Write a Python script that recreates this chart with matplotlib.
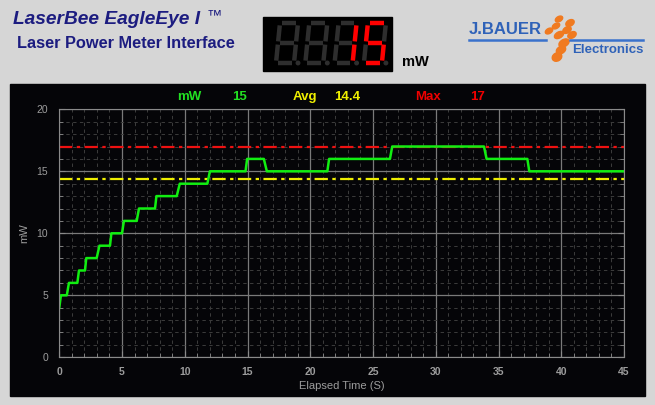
import matplotlib
matplotlib.use('Agg')
import matplotlib.pyplot as plt
from matplotlib.patches import Rectangle, Ellipse
from matplotlib.ticker import MultipleLocator
import numpy as np

plt.rcParams['font.family'] = ['Liberation Sans', 'DejaVu Sans']

# data
time_s = [0, 0.13, 0.6, 0.77, 1.44, 1.57, 2.05, 2.15, 2.98, 3.2, 4.04, 4.15,
          5.0, 5.15, 6.17, 6.35, 7.63, 7.74, 9.36, 9.6, 11.8, 12.0, 14.84,
          14.97, 16.3, 16.54, 21.36, 21.5, 26.35, 26.53, 33.84, 34.05, 37.3,
          37.45, 45]
power_mw = [4, 5, 5, 6, 6, 7, 7, 8, 8, 9, 9, 10, 10, 11, 11, 12, 12, 13, 13,
            14, 14, 15, 15, 16, 16, 15, 15, 16, 16, 17, 17, 16, 16, 15, 15]
current_mw = 15
avg_mw = 14.4
max_mw = 17
display_digits = ['', '', '1', '5']

bg = '#d6d6d6'
panel = '#050508'
grey = '#9c9c9c'

fig = plt.figure(figsize=(6.55, 4.05), dpi=100, facecolor=bg)

# overlay in pixel coordinates for the header decorations
ov = fig.add_axes([0, 0, 1, 1], zorder=0)
ov.set_xlim(0, 655)
ov.set_ylim(405, 0)
ov.axis('off')
ov.add_patch(Rectangle((10, 84), 635, 312, color=panel))

ov.text(13, 20, 'LaserBee EagleEye I', fontsize=13.8, fontweight='bold',
        fontstyle='italic', color='#1c1c80', va='center')
ov.text(207, 15, '\u2122', fontsize=11, fontstyle='italic', color='#1c1c80',
        va='center')
ov.text(17, 44, 'Laser Power Meter Interface', fontsize=11.8,
        fontweight='bold', color='#1c1c80', va='center')

# seven segment display
ov.add_patch(Rectangle((262.7, 17), 129.6, 54, color='black'))
segs = {
    'a': [(0.12, 0), (0.88, 0)], 'b': [(1, 0.06), (1, 0.46)],
    'c': [(1, 0.54), (1, 0.94)], 'd': [(0.12, 1), (0.88, 1)],
    'e': [(0, 0.54), (0, 0.94)], 'f': [(0, 0.06), (0, 0.46)],
    'g': [(0.12, 0.5), (0.88, 0.5)],
}
lit = {'': '', '1': 'bc', '5': 'afgcd'}


def digit(x0, y0, ch, w=18, h=40, sk=4):
    for name, pts in segs.items():
        xs = [x0 + u * w + (1 - v) * sk for u, v in pts]
        ys = [y0 + v * h for u, v in pts]
        col = '#ff0000' if name in lit[ch] else '#2e2e2e'
        ov.plot(xs, ys, color=col, lw=3.2, solid_capstyle='butt')
    ov.add_patch(Ellipse((x0 + w + 4, y0 + h), 3.5, 3.5, color='#2e2e2e'))


for i, ch in enumerate(display_digits):
    digit(276 + i * 29.3, 23, ch)
ov.text(402, 62, 'mW', fontsize=10.5, fontweight='bold', color='black',
        va='center')

# logo
logo_blue = '#2f62b8'
ov.text(469, 29, 'J.BAUER', fontsize=12, fontweight='bold', color=logo_blue,
        va='center')
ov.plot([469, 546], [39.5, 39.5], color='#3a72cc', lw=1.8)
ov.plot([570, 643], [39.5, 39.5], color='#3a72cc', lw=1.8)
ov.text(572, 50, 'Electronics', fontsize=9.5, fontweight='bold',
        color=logo_blue, va='center')
for (cx, cy, ew, eh) in [(559, 19, 8, 5), (570, 23, 9, 6), (556, 26, 8, 5),
                         (567, 30, 9, 6), (549, 31, 8, 5), (559, 35, 10, 6),
                         (572, 35, 9, 6), (564, 43, 11, 7), (561, 50, 10, 7),
                         (557, 57, 10, 8)]:
    ov.add_patch(Ellipse((cx, cy), ew, eh, angle=-30, color='#f07a20'))

# header labels inside the chart panel
ov.text(177, 97, 'mW', fontsize=9.5, fontweight='bold', color='#22e022',
        va='center')
ov.text(232, 97, str(current_mw), fontsize=9.5, fontweight='bold',
        color='#22e022', va='center')
ov.text(293, 97, 'Avg', fontsize=9.5, fontweight='bold', color='#f0f000',
        va='center')
ov.text(334, 97, str(avg_mw), fontsize=9.5, fontweight='bold',
        color='#f0f000', va='center')
ov.text(415, 97, 'Max', fontsize=9.5, fontweight='bold', color='#f00000',
        va='center')
ov.text(470, 97, str(max_mw), fontsize=9.5, fontweight='bold',
        color='#f00000', va='center')

# main chart
ax = fig.add_axes([0.0905, 0.1178, 0.8622, 0.6123], zorder=1)
ax.set_facecolor(panel)
ax.set_xlim(0, 45)
ax.set_ylim(0, 20)
ax.xaxis.set_major_locator(MultipleLocator(5))
ax.xaxis.set_minor_locator(MultipleLocator(1))
ax.yaxis.set_major_locator(MultipleLocator(5))
ax.yaxis.set_minor_locator(MultipleLocator(1))
ax.grid(which='minor', color='#3c3c3c', lw=0.7, ls=(0, (3.5, 3.5)))
ax.grid(which='major', color='#7a7a7a', lw=0.9, ls='-')
ax.set_axisbelow(True)
for s in ax.spines.values():
    s.set_color('#8a8a8a')
ax.tick_params(which='both', direction='in', colors='#8a8a8a',
               right=True, top=False)
ax.tick_params(which='major', length=4)
ax.tick_params(which='minor', length=3)
ax.tick_params(axis='x', pad=7, labelcolor=grey, labelsize=7.5)
ax.tick_params(axis='y', pad=8, labelcolor=grey, labelsize=7.5)
for lab in ax.get_xticklabels():
    lab.set_fontweight('bold')

ax.axhline(max_mw, color='#ee1111', lw=1.6, ls=(0, (6, 2, 1.5, 2)))
ax.axhline(avg_mw, color='#eeee00', lw=1.6, ls=(0, (6, 2, 1.5, 2)))
ax.plot(time_s, power_mw, color='#11ee11', lw=1.8)

ax.set_xlabel('Elapsed Time (S)', color=grey, fontsize=8, labelpad=3)
ax.set_ylabel('mW', color=grey, fontsize=8, labelpad=5)

fig.savefig('out.png', dpi=100, facecolor=bg)
